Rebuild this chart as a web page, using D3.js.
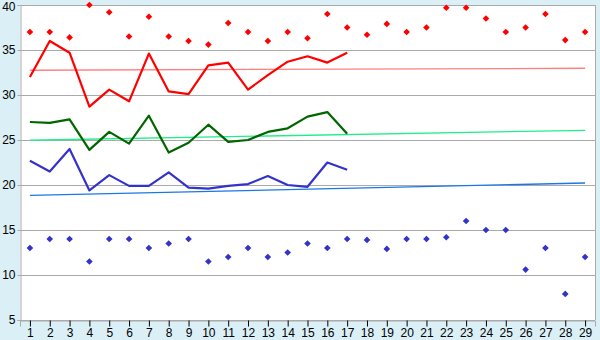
<!DOCTYPE html>
<html>
<head>
<meta charset="utf-8">
<script src="https://cdn.jsdelivr.net/npm/d3@7"></script>
<style>
  body { margin: 0; background: #daeff6; }
  svg { display: block; font-family: "DejaVu Sans", Verdana, sans-serif; }
</style>
</head>
<body>
<div id="chart"></div>
<script>
// days along the x axis
const days = d3.range(1, 30);
const yTicks = [5, 10, 15, 20, 25, 30, 35, 40];

// lines (days 1-17)
const redLine = [32.0, 36.0, 34.7, 28.7, 30.6, 29.3, 34.6, 30.4, 30.1, 33.3, 33.6, 30.6, 32.2, 33.7, 34.3, 33.6, 34.7];
const greenLine = [27.0, 26.9, 27.3, 23.9, 25.9, 24.6, 27.7, 23.6, 24.7, 26.7, 24.8, 25.0, 25.9, 26.3, 27.6, 28.1, 25.7];
const blueLine = [22.7, 21.5, 24.0, 19.4, 21.1, 19.9, 19.9, 21.4, 19.7, 19.6, 19.9, 20.1, 21.0, 20.0, 19.8, 22.5, 21.7];

// point series (all days)
const redPoints = [37.0, 37.0, 36.4, 40.0, 39.2, 36.5, 38.7, 36.5, 36.0, 35.6, 38.0, 37.0, 36.0, 37.0, 36.3, 39.0, 37.5, 36.7, 37.9, 37.0, 37.5, 39.7, 39.7, 38.5, 37.0, 37.5, 39.0, 36.1, 37.0];
const bluePoints = [13.0, 14.0, 14.0, 11.5, 14.0, 14.0, 13.0, 13.5, 14.0, 11.5, 12.0, 13.0, 12.0, 12.5, 13.5, 13.0, 14.0, 13.9, 12.9, 14.0, 14.0, 14.2, 16.0, 15.0, 15.0, 10.6, 13.0, 7.9, 12.0];

// trend lines: [start value at day 1, end value at day 29]
const redTrend = [32.75, 32.97];
const greenTrend = [24.97, 26.08];
const blueTrend = [18.85, 20.22];

const W = 600, H = 340;
const margin = {top: 5, right: 5, bottom: 20, left: 20};
const width = W - margin.left - margin.right;
const height = H - margin.top - margin.bottom;

const svg = d3.select("#chart").append("svg")
    .attr("width", W).attr("height", H);

const g = svg.append("g")
    .attr("transform", "translate(" + margin.left + "," + margin.top + ")");

const x = d3.scalePoint().domain(days).range([0, width]).padding(0.5);
const y = d3.scaleLinear().domain([5, 40]).range([height, 0]);

// plot background
g.append("rect").attr("width", width).attr("height", height).attr("fill", "#fff");

// gridlines
g.selectAll(".grid").data(yTicks).enter().append("line")
    .attr("x1", 0).attr("x2", width)
    .attr("y1", d => Math.round(y(d)) + 0.5).attr("y2", d => Math.round(y(d)) + 0.5)
    .attr("stroke", "#aaa");

// right border
g.append("line").attr("x1", width + 0.5).attr("x2", width + 0.5)
    .attr("y1", 0).attr("y2", height).attr("stroke", "#aaa");

// y axis
const yAxis = g.append("g").attr("transform", "translate(0.5,0)")
    .call(d3.axisLeft(y).tickValues(yTicks).tickSize(3).tickPadding(2));
yAxis.select(".domain").attr("stroke", "#aaa");
yAxis.selectAll(".tick line").attr("stroke", "#aaa");
yAxis.selectAll("text").attr("font-size", 12).attr("fill", "#000");
// keep the top label inside the picture
yAxis.selectAll(".tick").filter(d => d === 40).select("text").attr("dy", "0.42em");

// x axis
const xAxis = g.append("g").attr("transform", "translate(0," + (height + 0.5) + ")")
    .call(d3.axisBottom(x).tickSize(6).tickPadding(2));
xAxis.select(".domain").attr("stroke", "#aaa");
xAxis.selectAll(".tick line").attr("stroke", "#000");
xAxis.selectAll("text").attr("font-size", 12).attr("fill", "#000");

// trend lines
function trend(vals, color) {
    g.append("line")
        .attr("x1", x(days[0])).attr("x2", x(days[days.length - 1]))
        .attr("y1", y(vals[0])).attr("y2", y(vals[1]))
        .attr("stroke", color).attr("stroke-width", 1.3);
}
trend(redTrend, "#ff7f7f");
trend(greenTrend, "#22ee88");
trend(blueTrend, "#1a78e6");

// series lines
const line = d3.line().x((d, i) => x(days[i])).y(d => y(d));
function drawLine(vals, color) {
    g.append("path").datum(vals)
        .attr("d", line)
        .attr("fill", "none")
        .attr("stroke", color)
        .attr("stroke-width", 2.2)
        .attr("stroke-linejoin", "round");
}
drawLine(redLine, "#ff0000");
drawLine(greenLine, "#006600");
drawLine(blueLine, "#3333cc");

// point markers
const marker = d3.symbol().type(d3.symbolDiamond2).size(28);
function drawPoints(vals, color) {
    g.append("g").selectAll("path").data(vals).enter().append("path")
        .attr("d", marker)
        .attr("transform", (d, i) => "translate(" + x(days[i]) + "," + y(d) + ")")
        .attr("fill", color);
}
drawPoints(redPoints, "#ff0000");
drawPoints(bluePoints, "#3333cc");
</script>
</body>
</html>
